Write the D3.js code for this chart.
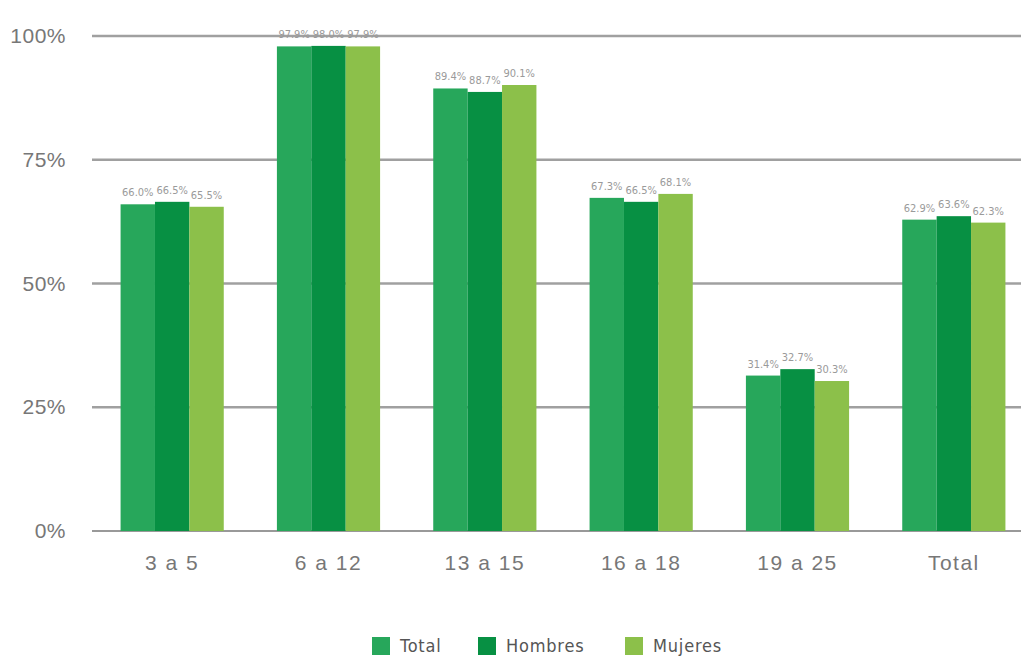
<!DOCTYPE html>
<html>
<head>
<meta charset="utf-8">
<script src="https://cdn.jsdelivr.net/npm/d3@7"></script>
<style>
    body { margin: 0; background: #fff; }
    svg { font-family: "Liberation Sans Narrow", "DejaVu Sans Condensed", "Open Sans", sans-serif; }
    .tick text { fill: #777; }
</style>
</head>
<body>
<svg id="chart" width="1021" height="661"></svg>
<script>
var categories = ["3 a 5", "6 a 12", "13 a 15", "16 a 18", "19 a 25", "Total"];
var seriesNames = ["Total", "Hombres", "Mujeres"];
var totalValues = [66.0, 97.9, 89.4, 67.3, 31.4, 62.9];
var hombresValues = [66.5, 98.0, 88.7, 66.5, 32.7, 63.6];
var mujeresValues = [65.5, 97.9, 90.1, 68.1, 30.3, 62.3];
var yTicks = [0, 25, 50, 75, 100];

var colors = {"Total": "#27a75b", "Hombres": "#079043", "Mujeres": "#8cc04a"};
var values = {"Total": totalValues, "Hombres": hombresValues, "Mujeres": mujeresValues};

var svg = d3.select("#chart");

var x = d3.scaleBand().domain(categories).range([94, 1032]).paddingInner(0.34).paddingOuter(0.17);
var xs = d3.scaleBand().domain(seriesNames).range([0, x.bandwidth()]);
var y = d3.scaleLinear().domain([0, 100]).range([531, 36]);

// gridlines
svg.append("g").selectAll("line").data(yTicks).enter().append("line")
    .attr("x1", 92).attr("x2", 1021)
    .attr("y1", function (d) { return y(d); })
    .attr("y2", function (d) { return y(d); })
    .attr("stroke", function (d) { return d == 0 ? "#777" : "#a0a0a0"; })
    .attr("stroke-width", function (d) { return d == 0 ? 1.5 : 2.5; });

// y axis labels
var yAxis = d3.axisLeft(y).tickValues(yTicks).tickSize(0).tickPadding(0)
    .tickFormat(function (d) { return d + "%"; });
svg.append("g").attr("transform", "translate(66,0)").call(yAxis)
    .call(function (g) { g.select(".domain").remove(); })
    .selectAll("text").attr("font-size", 21).attr("font-family", null).attr("letter-spacing", 0.5);

// x axis labels
var xAxis = d3.axisBottom(x).tickSize(0).tickPadding(0);
svg.append("g").attr("transform", "translate(0,555)").call(xAxis)
    .call(function (g) { g.select(".domain").remove(); })
    .selectAll("text").attr("font-size", 21).attr("font-family", null).attr("dy", "0.71em")
    .attr("letter-spacing", 1.5);

// bars
var groups = svg.append("g").selectAll("g").data(categories).enter().append("g")
    .attr("transform", function (d) { return "translate(" + x(d) + ",0)"; });

groups.each(function (cat, i) {
    var g = d3.select(this);
    var rows = seriesNames.map(function (s) { return {name: s, value: values[s][i]}; });
    g.selectAll("rect").data(rows).enter().append("rect")
        .attr("x", function (d) { return xs(d.name); })
        .attr("y", function (d) { return y(d.value); })
        .attr("width", xs.bandwidth())
        .attr("height", function (d) { return y(0) - y(d.value); })
        .attr("fill", function (d) { return colors[d.name]; });
    g.selectAll("text").data(rows).enter().append("text")
        .attr("x", function (d) { return xs(d.name) + xs.bandwidth() / 2; })
        .attr("y", function (d) { return y(d.value) - 8; })
        .attr("text-anchor", "middle")
        .attr("font-size", 11)
        .attr("fill", "#9a9a9a")
        .text(function (d) { return d.value.toFixed(1) + "%"; });
});

// legend
var legendX = [372, 478, 625];
var legend = svg.append("g").selectAll("g").data(seriesNames).enter().append("g")
    .attr("transform", function (d, i) { return "translate(" + legendX[i] + ",637)"; });
legend.append("rect").attr("width", 18).attr("height", 18)
    .attr("fill", function (d) { return colors[d]; });
legend.append("text").attr("x", 28).attr("y", 9).attr("dy", "0.35em")
    .attr("font-size", 18).attr("fill", "#555").attr("letter-spacing", 0.8)
    .text(function (d) { return d; });
</script>
</body>
</html>
